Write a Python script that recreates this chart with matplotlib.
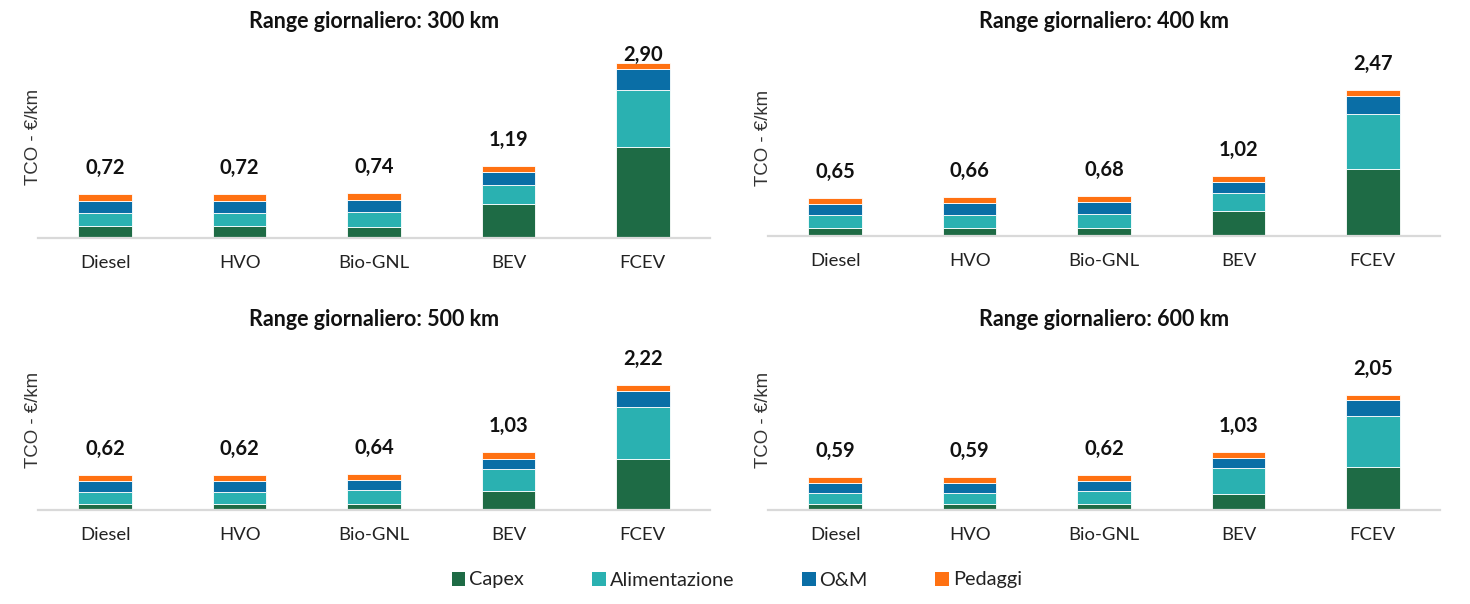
import matplotlib
matplotlib.use("Agg")
import matplotlib.pyplot as plt
from matplotlib.patches import Patch
import numpy as np

plt.rcParams['font.family'] = ['Lato', 'DejaVu Sans']

categories = ["Diesel", "HVO", "Bio-GNL", "BEV", "FCEV"]
series_names = ["Capex", "Alimentazione", "O&M", "Pedaggi"]
colors = ["#1e6b45", "#2ab1b1", "#0a6ea6", "#ff7112"]

titles = ["Range giornaliero: 300 km", "Range giornaliero: 400 km",
          "Range giornaliero: 500 km", "Range giornaliero: 600 km"]

# km 300
capex_300 = [0.20, 0.20, 0.18, 0.57, 1.51]
alim_300 = [0.22, 0.22, 0.25, 0.30, 0.93]
om_300 = [0.185, 0.185, 0.20, 0.22, 0.36]
ped_300 = [0.115, 0.115, 0.11, 0.10, 0.10]
tot_300 = ["0,72", "0,72", "0,74", "1,19", "2,90"]

# km 400
capex_400 = [0.14, 0.14, 0.13, 0.42, 1.13]
alim_400 = [0.215, 0.22, 0.25, 0.30, 0.93]
om_400 = [0.19, 0.19, 0.19, 0.20, 0.31]
ped_400 = [0.105, 0.11, 0.11, 0.10, 0.10]
tot_400 = ["0,65", "0,66", "0,68", "1,02", "2,47"]

# km 500
capex_500 = [0.11, 0.11, 0.11, 0.33, 0.90]
alim_500 = [0.21, 0.21, 0.25, 0.40, 0.94]
om_500 = [0.19, 0.19, 0.17, 0.18, 0.28]
ped_500 = [0.11, 0.11, 0.11, 0.12, 0.10]
tot_500 = ["0,62", "0,62", "0,64", "1,03", "2,22"]

# km 600
capex_600 = [0.10, 0.10, 0.10, 0.28, 0.76]
alim_600 = [0.20, 0.20, 0.23, 0.47, 0.92]
om_600 = [0.185, 0.185, 0.18, 0.17, 0.27]
ped_600 = [0.105, 0.105, 0.11, 0.11, 0.10]
tot_600 = ["0,59", "0,59", "0,62", "1,03", "2,05"]

panels = [
    ([capex_300, alim_300, om_300, ped_300], tot_300),
    ([capex_400, alim_400, om_400, ped_400], tot_400),
    ([capex_500, alim_500, om_500, ped_500], tot_500),
    ([capex_600, alim_600, om_600, ped_600], tot_600),
]

W, H = 1470, 604
fig = plt.figure(figsize=(W / 100, H / 100), dpi=100)

# axes boxes in pixels: (left, top, right, bottom)
boxes = [(38, 45, 710, 238), (768, 45, 1440, 236),
         (38, 320, 710, 510), (768, 320, 1440, 510)]
ppu = [60.5, 59.2, 56.2, 56.2]  # pixels per unit (target)
ylabel_y = [137, 138, 420, 420]

x = np.arange(len(categories))
for i, ((segs, tots), (l, t, r, b)) in enumerate(zip(panels, boxes)):
    ax = fig.add_axes([l / W, 1 - b / H, (r - l) / W, (b - t) / H])
    ymax = (b - t) / ppu[i]
    bottom = np.zeros(len(categories))
    for vals, c in zip(segs, colors):
        ax.bar(x, vals, 0.40, bottom=bottom, color=c, edgecolor="white",
               linewidth=0.6, zorder=2)
        bottom += np.array(vals)
    for xi, tot, lab in zip(x, bottom, tots):
        y = tot + 26 / ppu[i]
        y = min(y, ymax - 10 / ppu[i])
        ax.text(xi, y, lab, ha="center", va="center", fontsize=14.5,
                fontweight="bold", color="#111111")
    ax.set_xlim(-0.5, 4.5)
    ax.set_ylim(0, ymax)
    for s in ["top", "right", "left"]:
        ax.spines[s].set_visible(False)
    ax.spines["bottom"].set_color("#d9d9d9")
    ax.spines["bottom"].set_linewidth(1.6)
    ax.set_yticks([])
    ax.set_xticks(x)
    ax.set_xticklabels(categories, fontsize=13.3, color="#222222")
    ax.tick_params(axis="x", length=0, pad=12)
    fig.text((l - 5) / W, 1 - ylabel_y[i] / H, "TCO - €/km", rotation=90,
             ha="center", va="center", fontsize=13.4, color="#333333",
             family=["Liberation Sans", "DejaVu Sans"])
    fig.text((l + r) / 2 / W, 1 - (22 if i < 2 else 320) / H, titles[i],
             ha="center", va="center", fontsize=15.5, fontweight="bold",
             color="#111111")

handles = [Patch(facecolor=c, edgecolor="none") for c in colors]
fig.legend(handles, series_names, loc="center", bbox_to_anchor=(737 / W, 1 - 580 / H),
           ncol=4, frameon=False, fontsize=14.3, handlelength=0.7, handleheight=0.7,
           handletextpad=0.2, columnspacing=3.4, labelcolor="#222222")

fig.savefig("out.png", dpi=100, facecolor="white")
